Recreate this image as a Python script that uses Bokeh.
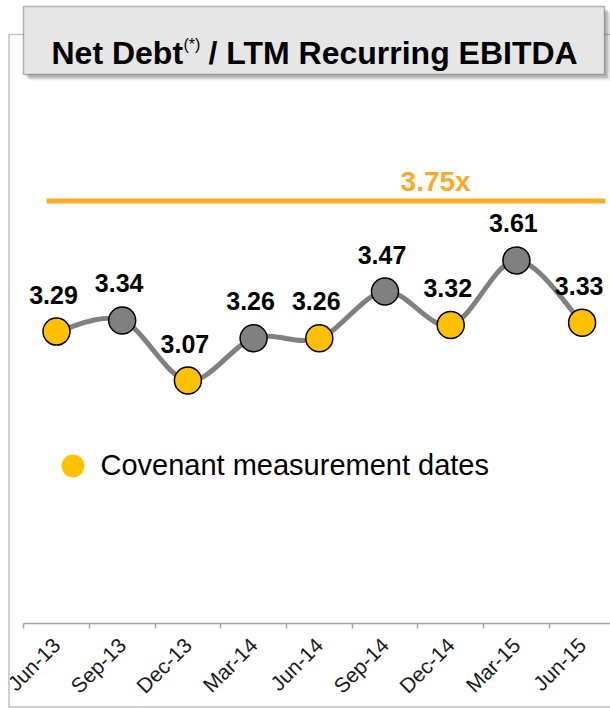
import numpy as np
from bokeh.plotting import figure
from bokeh.models import (Range1d, LinearAxis, FixedTicker, BoxAnnotation, Label,
                          ColumnDataSource, Legend, LegendItem)
from bokeh.embed import file_html
from bokeh.resources import INLINE
from bokeh.core.properties import value

# ---------------- data ----------------
periods = ["Jun-13", "Sep-13", "Dec-13", "Mar-14", "Jun-14",
           "Sep-14", "Dec-14", "Mar-15", "Jun-15"]
ratios = [3.29, 3.34, 3.07, 3.26, 3.26, 3.47, 3.32, 3.61, 3.33]
is_covenant_date = [True, False, True, False, True, False, True, False, True]
covenant_limit = 3.75
limit_text = "3.75x"
legend_text = "Covenant measurement dates"

# ---------------- styles ----------------
YELLOW = "#FFC000"
GRAY = "#808080"
ORANGE = "#FBAA28"
FONT = "Liberation Sans"

W, H = 610, 708
FRAME_H = 623
n = len(periods)
X_RANGE = (-0.852, 8.432)
Y_RANGE = (1.978, 4.778)

p = figure(width=W, height=H, output_backend="svg", toolbar_location=None,
           x_axis_type=None, y_axis_type=None,
           x_range=Range1d(*X_RANGE), y_range=Range1d(*Y_RANGE),
           min_border_left=0, min_border_right=0, min_border_top=0,
           min_border_bottom=H - FRAME_H)
p.outline_line_color = None
p.background_fill_color = "white"
p.border_fill_color = "white"
p.extra_y_ranges = {"limit": Range1d(1.851, 4.651)}

def px_to_x(px):
    return X_RANGE[0] + px / W * (X_RANGE[1] - X_RANGE[0])

def py_to_y(py):
    return Y_RANGE[1] - py / FRAME_H * (Y_RANGE[1] - Y_RANGE[0])

# outer frame border: an unclipped quad drawn at annotation level
p.quad(left=[px_to_x(8.5)], right=[px_to_x(720)], top=[py_to_y(34)],
       bottom=[py_to_y(706.5)], fill_color=None, line_color="#BFBFBF",
       line_width=1.5, level="annotation")

def canvas_box(left, right, top, bottom, **kw):
    return BoxAnnotation(left=left, right=right, top=top, bottom=bottom,
                         left_units="canvas", right_units="canvas",
                         top_units="canvas", bottom_units="canvas", **kw)

# title box with soft shadow
for k, a in [(6, 0.08), (5, 0.12), (4, 0.15), (3, 0.18)]:
    p.add_layout(canvas_box(23 + k, 604 + k, 6 + k, 74 + k,
                            fill_color="#606060", fill_alpha=a, line_color=None))
p.add_layout(canvas_box(23, 604, 6, 74, fill_color="#E6E6E6", fill_alpha=1.0,
                        line_color="#1A1A1A", line_width=1.5))

def title_label(x, y, text, size, bold=True):
    return Label(x=x, y=y, x_units="canvas", y_units="canvas", text=text,
                 text_font=FONT, text_font_size=size,
                 text_font_style="bold" if bold else "normal",
                 text_color="black", text_baseline="alphabetic", text_align="left")

p.add_layout(title_label(51, 52, "Net Debt", "32px"))
p.add_layout(title_label(183, 44, "(*)", "16px", bold=False))
p.add_layout(title_label(208, 52, "/ LTM Recurring EBITDA", "32px"))

# x axis: labels centred on categories, tick marks at category boundaries
ax = LinearAxis(ticker=FixedTicker(ticks=list(range(n)),
                                   minor_ticks=[i - 0.5 for i in range(n + 1)]),
                major_label_overrides={i: s for i, s in enumerate(periods)},
                bounds=(-0.5, n - 0.5),
                major_tick_in=0, major_tick_out=0,
                minor_tick_in=0, minor_tick_out=5,
                axis_line_color="#A6A6A6", axis_line_width=1.5,
                minor_tick_line_color="#A6A6A6", minor_tick_line_width=1.5,
                major_label_orientation=np.pi / 4,
                major_label_text_font=FONT, major_label_text_font_size="21px",
                major_label_text_color="#1A1A1A", major_label_standoff=13)
p.add_layout(ax, "below")

# covenant limit line
p.segment(x0=[-0.152], y0=[covenant_limit], x1=[8.356], y1=[covenant_limit],
          y_range_name="limit", line_color=ORANGE, line_width=5)
p.add_layout(Label(x=5.77, y=covenant_limit, y_range_name="limit", y_offset=19,
                   text=limit_text, text_align="center", text_baseline="alphabetic",
                   text_font=FONT, text_font_style="bold", text_font_size="28px",
                   text_color=ORANGE))

# smooth line (Catmull-Rom -> cubic Bezier)
xs = np.arange(n, dtype=float)
ys = np.array(ratios, dtype=float)
P = np.column_stack([xs, ys])
x0, y0, x1, y1, cx0, cy0, cx1, cy1 = ([] for _ in range(8))
for i in range(n - 1):
    pm = P[i - 1] if i > 0 else P[i]
    pp = P[i + 2] if i + 2 < n else P[i + 1]
    c1 = P[i] + (P[i + 1] - pm) / 6.0
    c2 = P[i + 1] - (pp - P[i]) / 6.0
    x0.append(P[i][0]); y0.append(P[i][1])
    x1.append(P[i + 1][0]); y1.append(P[i + 1][1])
    cx0.append(c1[0]); cy0.append(c1[1])
    cx1.append(c2[0]); cy1.append(c2[1])
p.bezier(x0=x0, y0=y0, x1=x1, y1=y1, cx0=cx0, cy0=cy0, cx1=cx1, cy1=cy1,
         line_color=GRAY, line_width=5)

src = ColumnDataSource(dict(
    x=xs, y=ys,
    color=[YELLOW if c else GRAY for c in is_covenant_date],
    label=[f"{v:.2f}" for v in ratios]))
p.scatter("x", "y", source=src, size=27, fill_color="color",
          line_color="black", line_width=1.5)
p.text("x", "y", text="label", source=src, text_align="center",
       text_baseline="middle", x_offset=-3, y_offset=-37,
       text_font=value(FONT), text_font_style="bold", text_font_size="25px",
       text_color="black")

# legend (renderer with a single non-drawn point so the legend glyph exists)
dummy = p.scatter(x=[float("nan")], y=[float("nan")], size=23,
                  fill_color=YELLOW, line_color=None)
legend = Legend(items=[LegendItem(label=legend_text, renderers=[dummy])],
                location=(43.5, 129.5), glyph_width=57, glyph_height=57,
                label_standoff=-3, padding=0, margin=0, spacing=0,
                border_line_color=None, background_fill_alpha=0,
                label_text_font=FONT, label_text_font_size="29px",
                label_text_color="black")
p.add_layout(legend, "center")

open("out.html", "w").write(file_html(p, INLINE))
